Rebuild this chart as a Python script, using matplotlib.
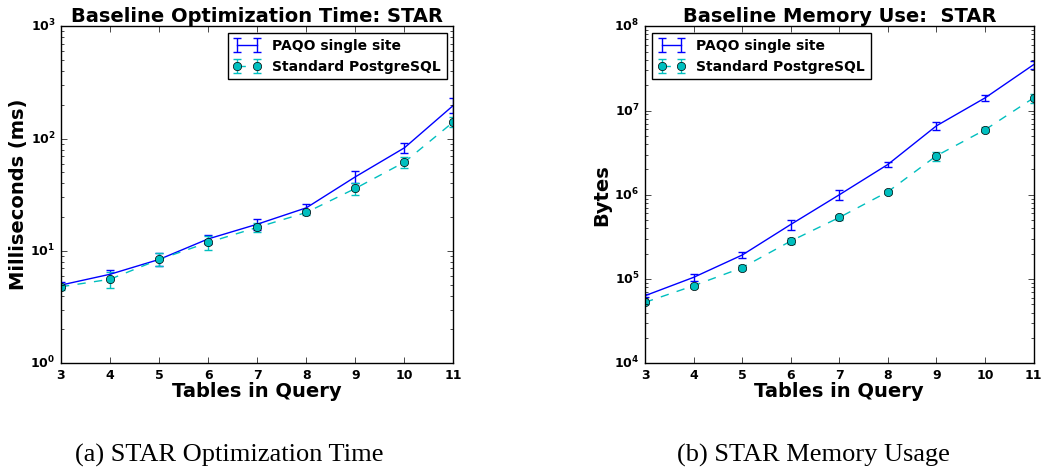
import matplotlib
matplotlib.use('Agg')
import matplotlib.pyplot as plt

plt.style.use('classic')
plt.rcParams['font.weight'] = 'bold'
plt.rcParams['axes.labelweight'] = 'bold'
plt.rcParams['axes.titleweight'] = 'bold'
plt.rcParams['figure.facecolor'] = 'white'
plt.rcParams['savefig.facecolor'] = 'white'

tables = [3, 4, 5, 6, 7, 8, 9, 10, 11]

# optimization time (ms)
paqo_time = [4.97, 6.2, 8.4, 12.8, 17.3, 24.2, 45.7, 82.8, 198.0]
paqo_time_err = [0.3, 0.6, 1.1, 1.2, 2.0, 2.1, 5.3, 8.3, 30.0]
pg_time = [4.8, 5.6, 8.4, 11.9, 16.2, 22.0, 36.0, 61.7, 141.0]
pg_time_err = [0.3, 0.9, 1.1, 1.6, 1.5, 1.1, 4.5, 6.7, 15.0]

# memory use (bytes)
paqo_mem = [63400, 104700, 192600, 444000, 1.0e6, 2.29e6, 6.58e6, 1.41e7, 3.5e7]
paqo_mem_err = [3000, 1.0e4, 1.6e4, 6.0e4, 1.4e5, 1.6e5, 7.5e5, 1.2e6, 4.0e6]
pg_mem = [52900, 83300, 136300, 282000, 538000, 1.086e6, 2.9e6, 5.9e6, 1.41e7]
pg_mem_err = [2000, 5000, 1.0e4, 2.5e4, 4.0e4, 6.0e4, 3.5e5, 4.0e5, 1.8e6]

fig = plt.figure(figsize=(10.48, 4.71), dpi=100)


def draw(ax, paqo, paqo_err, pg, pg_err, title, ylabel, ylim, legend_loc):
    ax.errorbar(tables, paqo, yerr=paqo_err, fmt='b-', ecolor='b', capsize=3,
                elinewidth=1, capthick=1, label='PAQO single site')
    ax.errorbar(tables, pg, yerr=pg_err, fmt='c--o', ecolor='c', capsize=3,
                elinewidth=1, capthick=1, markersize=6, markeredgecolor='k',
                markerfacecolor='c', label='Standard PostgreSQL')
    ax.set_yscale('log')
    ax.set_xlim(3, 11)
    ax.set_ylim(*ylim)
    ax.set_title(title, fontsize=14, fontweight='bold', pad=3)
    ax.set_xlabel('Tables in Query', fontsize=14, fontweight='bold', labelpad=0)
    ax.set_ylabel(ylabel, fontsize=14, fontweight='bold', labelpad=2)
    ax.tick_params(labelsize=9)
    for lab in ax.get_xticklabels() + ax.get_yticklabels():
        lab.set_fontweight('bold')
    leg = ax.legend(loc=legend_loc, numpoints=2, prop={'weight': 'bold', 'size': 10},
                    borderaxespad=0.5, handlelength=2.0)
    leg.get_frame().set_linewidth(1)


ax1 = fig.add_axes([0.0582, 0.2287, 0.3745, 0.7155])
draw(ax1, paqo_time, paqo_time_err, pg_time, pg_time_err,
     'Baseline Optimization Time: STAR', 'Milliseconds (ms)', (1, 1000), 'upper right')

ax2 = fig.add_axes([0.6155, 0.2287, 0.3707, 0.7155])
draw(ax2, paqo_mem, paqo_mem_err, pg_mem, pg_mem_err,
     'Baseline Memory Use:  STAR', 'Bytes', (1e4, 1e8), 'upper left')

fig.text(0.2185, 0.034, '(a) STAR Optimization Time', family='Liberation Serif',
         fontsize=19, ha='center', va='center', weight='normal')
fig.text(0.776, 0.034, '(b) STAR Memory Usage', family='Liberation Serif',
         fontsize=19, ha='center', va='center', weight='normal')

fig.savefig('out.png', dpi=100)
